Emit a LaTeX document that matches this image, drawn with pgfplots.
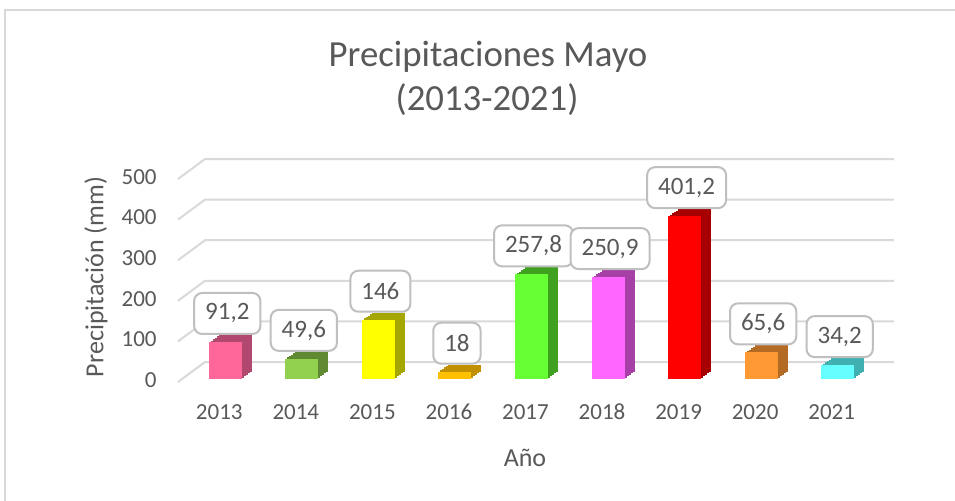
\documentclass[border=0pt]{standalone}
\usepackage{fontspec}
\setmainfont{Carlito}
\usepackage{pgfplots}
\pgfplotsset{compat=1.18}
\definecolor{txt}{HTML}{595959}
\definecolor{gridc}{HTML}{D9D9D9}
\definecolor{boxc}{HTML}{BFBFBF}
\definecolor{fA}{HTML}{FF6699}\definecolor{sA}{HTML}{B04870}
\definecolor{fB}{HTML}{92D050}\definecolor{sB}{HTML}{5F8A33}
\definecolor{fC}{HTML}{FFFF00}\definecolor{sC}{HTML}{A6A600}
\definecolor{fD}{HTML}{FFC000}\definecolor{sD}{HTML}{C09000}
\definecolor{fE}{HTML}{66FF33}\definecolor{sE}{HTML}{40A020}
\definecolor{fF}{HTML}{FF66FF}\definecolor{sF}{HTML}{A640A6}
\definecolor{fG}{HTML}{FF0000}\definecolor{sG}{HTML}{A60000}
\definecolor{fH}{HTML}{FF9933}\definecolor{sH}{HTML}{B36B24}
\definecolor{fI}{HTML}{66FFFF}\definecolor{sI}{HTML}{40B0B0}
\newcommand{\tdbar}[4]{%
 \addplot[fill=#4,draw=none,bar shift=3pt,xshift=1pt,yshift=0.7pt] coordinates {(#1,#2)};
 \addplot[fill=#4,draw=none,bar shift=3pt,xshift=2pt,yshift=1.4pt] coordinates {(#1,#2)};
 \addplot[fill=#4,draw=none,bar shift=3pt,xshift=3pt,yshift=2.1pt] coordinates {(#1,#2)};
 \addplot[fill=#4,draw=none,bar shift=3pt,xshift=4pt,yshift=2.8pt] coordinates {(#1,#2)};
 \addplot[fill=#4,draw=none,bar shift=3pt,xshift=5pt,yshift=3.5pt] coordinates {(#1,#2)};
 \addplot[fill=#3,draw=none,bar shift=3pt,nodes near coords] coordinates {(#1,#2)};
}
\begin{document}
\begin{tikzpicture}[x=0.5pt,y=0.5pt]
\useasboundingbox (0,0) rectangle (955,500);
\fill[white] (0,0) rectangle (955,500);
\draw[gridc,line width=1pt] (5,-10) -- (5,490) -- (970,490);
\node[text=txt,font=\fontsize{18.4}{22}\selectfont] at (488,443) {Precipitaciones Mayo};
\node[text=txt,font=\fontsize{18.4}{22}\selectfont] at (487,400) {(2013-2021)};
\node[text=txt,font=\fontsize{13}{15}\selectfont,rotate=90] at (96,223) {Precipitación (mm)};
\node[text=txt,font=\fontsize{13}{15}\selectfont] at (525,42) {Año};
\begin{axis}[
  at={(90.5pt,60.5pt)}, anchor=south west,
  scale only axis, width=344.5pt, height=101.5pt,
  xmin=-0.5, xmax=8.5, ymin=0, ymax=500,
  ybar, bar width=16.5pt,
  axis line style={draw=none}, major tick length=0pt,
  xtick={0,...,8},
  xticklabels={2013,2014,2015,2016,2017,2018,2019,2020,2021},
  ytick={0,100,...,500},
  ticklabel style={text=txt,font=\fontsize{11.5}{13}\selectfont},
  xticklabel style={anchor=base,yshift=-20pt},
  yticklabel style={anchor=east,inner sep=0pt,xshift=-12pt,yshift=-0.5pt},
  /pgf/number format/assume math mode=true,
  clip=false,
  every node near coord/.append style={
    font=\fontsize{12.5}{14}\selectfont, text=txt, draw=boxc, line width=1pt,
    fill=white, rounded corners=4pt, inner xsep=5.5pt, inner ysep=5pt,
    minimum height=20.5pt, anchor=south, yshift=3.5pt, xshift=1pt,
    /pgf/number format/use comma, /pgf/number format/assume math mode=true},
]
\pgfplotsinvokeforeach{0,100,200,300,400,500}{
  \draw[gridc,line width=1pt] ([xshift=-1.5pt,yshift=-1.5pt]axis cs:-0.5,#1) -- ([xshift=12pt,yshift=8.5pt]axis cs:-0.5,#1) -- ([xshift=12pt,yshift=8.5pt]axis cs:8.5,#1);
}
\tdbar{0}{91.2}{fA}{sA}
\tdbar{1}{49.6}{fB}{sB}
\tdbar{2}{146}{fC}{sC}
\tdbar{3}{18}{fD}{sD}
\tdbar{4}{257.8}{fE}{sE}
\tdbar{5}{250.9}{fF}{sF}
\tdbar{6}{401.2}{fG}{sG}
\tdbar{7}{65.6}{fH}{sH}
\tdbar{8}{34.2}{fI}{sI}
\end{axis}
\end{tikzpicture}
\end{document}
